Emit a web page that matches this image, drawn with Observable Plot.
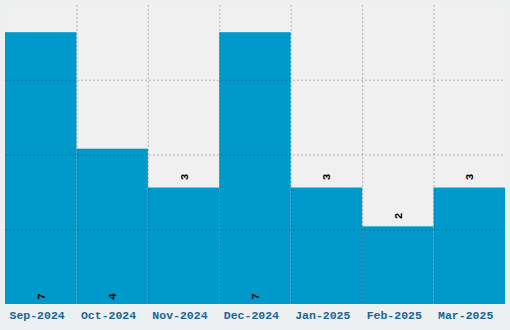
<!DOCTYPE html>
<html><head><meta charset="utf-8">
<script src="https://cdn.jsdelivr.net/npm/d3@7"></script>
<script src="https://cdn.jsdelivr.net/npm/@observablehq/plot@0.6"></script>
<style>
html,body{margin:0;padding:0;background:#ecf0f1;}
#chart svg{display:block;}
#chart svg text{font-family:"Liberation Mono", monospace !important;}
</style></head>
<body><div id="chart"></div>
<script>
const months = ["Sep-2024","Oct-2024","Nov-2024","Dec-2024","Jan-2025","Feb-2025","Mar-2025"];
const counts = [7,4,3,7,3,2,3];

const data = months.map((m,i)=>({month:m, value:counts[i]}));
const ymax = d3.max(counts)*1.1;
const yGrid = [1,2,3].map(k=>ymax*k/4);
const W = 510, mL = 5, mR = 5;
const band = (W-mL-mR)/months.length;
const xGrid = months.slice(1);
const font = "Liberation Mono";

const chart = Plot.plot({
  width:W, height:330,
  marginLeft:mL, marginRight:mR, marginTop:5, marginBottom:26,
  style:{background:"#ecf0f1"},
  x:{domain:months, padding:0, round:false, label:null},
  y:{domain:[0,ymax], axis:null},
  marks:[
    Plot.frame({fill:"#f0f0f0", stroke:null}),
    Plot.barY(data,{x:"month", y:"value", fill:"#0099cc", inset:0}),
    Plot.ruleY(yGrid,{stroke:"#000", strokeOpacity:0.25, strokeDasharray:"2,2"}),
    Plot.ruleX(xGrid,{x:d=>d, dx:-band/2, stroke:"#000", strokeOpacity:0.25, strokeDasharray:"2,2"}),
    Plot.text(data.filter(d=>d.value>3),{x:"month", y:0, text:d=>String(d.value), rotate:-90, dy:-8, fill:"#000", fontSize:11, fontWeight:"bold", fontFamily:font}),
    Plot.text(data.filter(d=>d.value<=3),{x:"month", y:"value", text:d=>String(d.value), rotate:-90, dy:-11, fill:"#000", fontSize:11, fontWeight:"bold", fontFamily:font}),
    Plot.axisX({tickSize:0, tickPadding:6, fontSize:11.5, fontWeight:"bold", fill:"#1a6496", label:null, fontFamily:font, textAnchor:"start", dx:-band/2+4})
  ]
});
document.getElementById("chart").append(chart);
</script></body></html>
